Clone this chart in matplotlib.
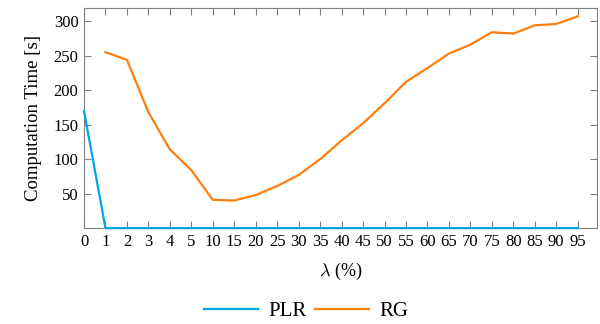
import matplotlib.pyplot as plt
import numpy as np

plt.rcParams['font.family'] = ['Liberation Serif', 'DejaVu Serif']
plt.rcParams['mathtext.fontset'] = 'cm'

lam = ['0', '1', '2', '3', '4', '5', '10', '15', '20', '25', '30', '35',
       '40', '45', '50', '55', '60', '65', '70', '75', '80', '85', '90', '95']
plr = [170, 0, 0, 0, 0, 0, 0, 0, 0, 0, 0, 0,
       0, 0, 0, 0, 0, 0, 0, 0, 0, 0, 0, 0]
rg = [np.nan, 255, 244, 168, 114, 84, 41, 40, 48, 61, 77, 100,
      127, 152, 181, 212, 232, 253, 266, 284, 282, 294, 296, 307]

x = np.arange(len(lam))

fig = plt.figure(figsize=(6, 3.24), dpi=100)
ax = fig.add_axes([0.14, 0.296, 0.855, 0.679])

ax.plot(x, plr, color='#00a6e6', lw=1.6, label='PLR', clip_on=False, zorder=5)
ax.plot(x, rg, color='#ff7f0e', lw=1.6, label='RG', zorder=4)

ax.set_xlim(0, 23.9)
ax.set_ylim(0, 319)
ax.set_xticks(x)
ax.set_xticklabels(lam)
ax.set_yticks([50, 100, 150, 200, 250, 300])

for s in ax.spines.values():
    s.set_color('#808080')
    s.set_linewidth(0.8)
ax.tick_params(direction='in', top=True, right=True, length=5, width=0.8,
               color='#808080', labelsize=12, pad=4)

ax.set_xlabel(r'$\lambda$ (%)', fontsize=13, labelpad=8)
ax.set_ylabel('Computation Time [s]', fontsize=13.5, labelpad=8)

fig.legend(loc='lower center', ncol=2, frameon=False, fontsize=15,
           bbox_to_anchor=(0.51, -0.05), handlelength=2.6, columnspacing=0.4,
           handletextpad=0.5)

fig.savefig('out.png', dpi=100)
